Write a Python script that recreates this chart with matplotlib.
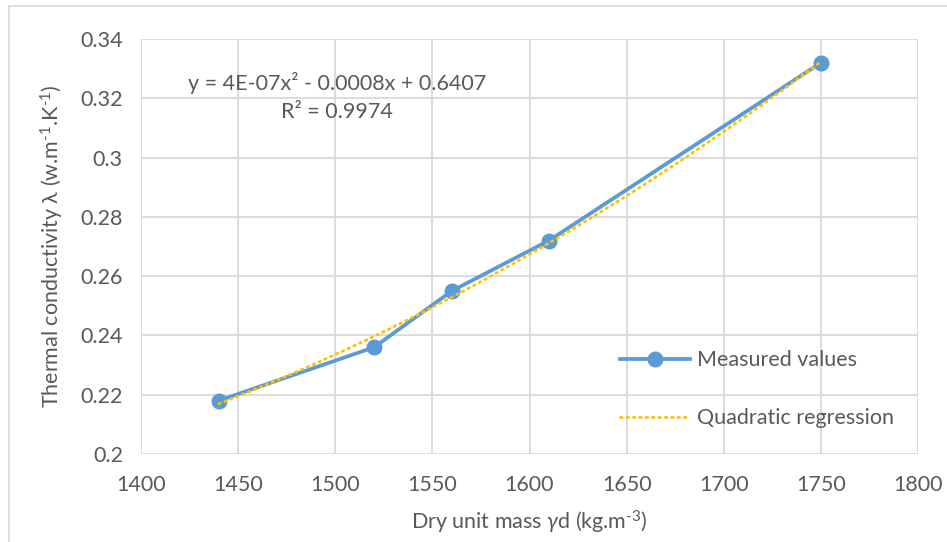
import numpy as np
import matplotlib
matplotlib.use("Agg")
import matplotlib.pyplot as plt
from matplotlib.patches import Rectangle
from matplotlib.lines import Line2D

plt.rcParams['font.family'] = ['Lato', 'DejaVu Sans']
plt.rcParams['mathtext.fontset'] = 'custom'
plt.rcParams['mathtext.rm'] = 'Lato'
plt.rcParams['mathtext.it'] = 'Lato:italic'
plt.rcParams['mathtext.bf'] = 'Lato:bold'

density = [1440, 1520, 1560, 1610, 1750]
conductivity = [0.218, 0.236, 0.255, 0.272, 0.332]
x_ticks = [1400, 1450, 1500, 1550, 1600, 1650, 1700, 1750, 1800]
y_ticks = [0.2, 0.22, 0.24, 0.26, 0.28, 0.3, 0.32, 0.34]
y_tick_labels = ["0.2", "0.22", "0.24", "0.26", "0.28", "0.3", "0.32", "0.34"]
equation_text = "y = 4E-07x² - 0.0008x + 0.6407"
r2_text = "R² = 0.9974"

W, H = 947, 542
fig = plt.figure(figsize=(W / 100, H / 100), dpi=100)
ax = fig.add_axes([141 / W, 1 - 454 / H, (918 - 141) / W, (454 - 39) / H])

text_color = "#595959"
grid_color = "#d9d9d9"
FS = 15.5

# chart border
fig.patches.append(Rectangle((9 / W, -0.5), 2.0, 1 - 6 / H + 0.5, transform=fig.transFigure,
                             fill=False, edgecolor=grid_color, linewidth=1.2, zorder=0))

coef = np.polyfit(density, conductivity, 2)
xs = np.linspace(min(density), max(density), 200)
ys = np.polyval(coef, xs)

ax.plot(density, conductivity, color="#5B9BD5", linewidth=2.7, marker="o", markersize=10.5,
        zorder=3, solid_capstyle="round")
ax.plot(xs, ys, color="#FFC000", linewidth=2.0, linestyle=(0, (0.6, 1.7)),
        dash_capstyle="round", zorder=4)

ax.set_xlim(1400, 1800)
ax.set_ylim(0.2, 0.34)
ax.set_xticks(x_ticks)
ax.set_yticks(y_ticks)
ax.set_yticklabels(y_tick_labels)
ax.grid(True, color=grid_color, linewidth=1.3)
ax.set_axisbelow(True)
for s in ax.spines.values():
    s.set_visible(False)
ax.tick_params(length=0, labelsize=FS, colors=text_color, pad=13)
ax.tick_params(axis='x', pad=15)

ax.set_ylabel(r"Thermal conductivity λ (w.m$^{\text{-}1}$.K$^{\text{-}1}$)", fontsize=FS, color=text_color, labelpad=10)
ax.set_xlabel(r"Dry unit mass $\mathit{\gamma}$d (kg.m$^{\text{-}3}$)", fontsize=FS, color=text_color, labelpad=10)

fig.text(337 / W, 1 - 83 / H, equation_text, ha="center", va="center", fontsize=FS, color=text_color)
fig.text(337 / W, 1 - 112 / H, r2_text, ha="center", va="center", fontsize=FS, color=text_color)

handles = [Line2D([], [], color="#5B9BD5", linewidth=2.7, marker="o", markersize=10.5),
           Line2D([], [], color="#FFC000", linewidth=2.0, linestyle=(0, (0.6, 1.7)), dash_capstyle="round")]
leg = fig.legend(handles, ["Measured values", "Quadratic regression"], loc="upper left",
                 bbox_to_anchor=(601 / W, 1 - 331 / H), frameon=False, fontsize=FS,
                 handlelength=3.25, handletextpad=0.33, labelspacing=1.75)
for t in leg.get_texts():
    t.set_color(text_color)

fig.savefig("out.png", dpi=100)
